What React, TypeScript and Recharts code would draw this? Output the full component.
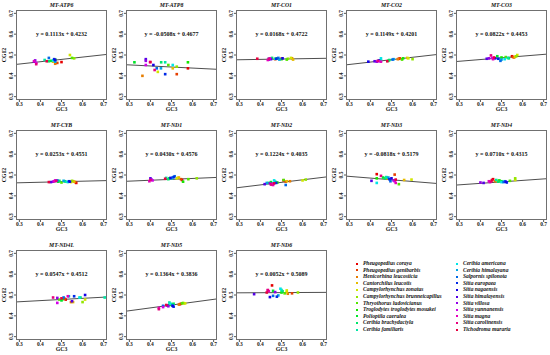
import { ReferenceLine, Scatter, ScatterChart, XAxis, YAxis } from "recharts";

const FONT = "'Liberation Serif', 'Times New Roman', serif";

const species = [
  "Pheugopedius coraya", "Pheugopedius genibarbis", "Henicorhina leucosticta",
  "Cantorchilus leucotis", "Campylorhynchus zonatus", "Campylorhynchus brunneicapillus",
  "Thryothorus ludovicianus", "Troglodytes troglodytes mosukei", "Polioptila caerulea",
  "Certhia brachydactyla", "Certhia familiaris", "Certhia americana", "Certhia himalayana",
  "Salpornis spilonota", "Sitta europaea", "Sitta nagaensis", "Sitta himalayensis",
  "Sitta villosa", "Sitta yunnanensis", "Sitta magna", "Sitta carolinensis", "Tichodroma muraria",
];

const colors = [
  "#E60000", "#E63F00", "#E67D00", "#E6BC00", "#D1E600", "#92E600", "#54E600", "#15E600",
  "#00E629", "#00E668", "#00E6A6", "#00E6E6", "#00A6E6", "#0068E6", "#0029E6", "#1500E6",
  "#5400E6", "#9200E6", "#D100E6", "#E600BC", "#E6007D", "#E6003F",
];

const genes = [
  "MT-ATP6", "MT-ATP8", "MT-CO1", "MT-CO2", "MT-CO3", "MT-CYB", "MT-ND1",
  "MT-ND2", "MT-ND3", "MT-ND4", "MT-ND4L", "MT-ND5", "MT-ND6",
];
const slopes = [0.1113, -0.0508, 0.0168, 0.1149, 0.0822, 0.0253, 0.043, 0.1224, -0.0818, 0.071, 0.0547, 0.1364, 0.0052];
const intercepts = [0.4232, 0.4677, 0.4722, 0.4201, 0.4453, 0.4551, 0.4576, 0.4035, 0.5179, 0.4315, 0.4512, 0.3836, 0.5089];

const axisTicks = [0.3, 0.4, 0.5, 0.6, 0.7];
const axisDomain = [0.284, 0.716];

// [GC3, CG12] per species, same order as `species`
const atp6 = [
  [0.5, 0.466], [0.48, 0.462], [0.47, 0.458], [0.46, 0.468], [0.54, 0.5], [0.56, 0.484],
  [0.55, 0.486], [0.47, 0.478], [0.45, 0.472], [0.44, 0.47], [0.42, 0.476], [0.46, 0.474],
  [0.47, 0.468], [0.44, 0.486], [0.465, 0.48], [0.47, 0.476], [0.37, 0.468], [0.375, 0.474],
  [0.38, 0.462], [0.37, 0.47], [0.38, 0.456], [0.43, 0.47],
];
const atp8 = [
  [0.578, 0.436], [0.525, 0.408], [0.362, 0.4], [0.506, 0.436], [0.435, 0.419], [0.525, 0.444],
  [0.485, 0.452], [0.578, 0.465], [0.324, 0.465], [0.451, 0.465], [0.47, 0.465], [0.506, 0.452],
  [0.45, 0.436], [0.43, 0.436], [0.47, 0.408], [0.414, 0.452], [0.378, 0.48], [0.378, 0.472],
  [0.378, 0.452], [0.398, 0.466], [0.42, 0.428], [0.4, 0.466],
];
const co1 = [
  [0.5, 0.482], [0.47, 0.48], [0.55, 0.484], [0.555, 0.478], [0.545, 0.486], [0.53, 0.482],
  [0.525, 0.478], [0.5, 0.48], [0.48, 0.484], [0.455, 0.486], [0.47, 0.482], [0.44, 0.482],
  [0.49, 0.478], [0.485, 0.486], [0.475, 0.482], [0.505, 0.484], [0.45, 0.48], [0.44, 0.478],
  [0.445, 0.484], [0.435, 0.476], [0.44, 0.482], [0.385, 0.482],
];
const co2 = [
  [0.535, 0.482], [0.54, 0.484], [0.53, 0.48], [0.575, 0.486], [0.58, 0.484], [0.6, 0.48],
  [0.55, 0.478], [0.555, 0.484], [0.485, 0.472], [0.49, 0.476], [0.45, 0.474], [0.45, 0.484],
  [0.51, 0.48], [0.505, 0.478], [0.44, 0.474], [0.39, 0.468], [0.42, 0.47], [0.43, 0.468],
  [0.44, 0.47], [0.45, 0.468], [0.435, 0.472], [0.48, 0.47],
];
const co3 = [
  [0.55, 0.494], [0.555, 0.49], [0.56, 0.488], [0.565, 0.492], [0.575, 0.5], [0.57, 0.494],
  [0.52, 0.49], [0.5, 0.488], [0.48, 0.494], [0.535, 0.484], [0.53, 0.486], [0.515, 0.48],
  [0.5, 0.478], [0.495, 0.472], [0.485, 0.482], [0.47, 0.484], [0.43, 0.482], [0.44, 0.484],
  [0.455, 0.486], [0.46, 0.48], [0.45, 0.498], [0.465, 0.488],
];
const cyb = [
  [0.57, 0.462], [0.565, 0.466], [0.555, 0.47], [0.56, 0.468], [0.545, 0.466], [0.55, 0.472],
  [0.5, 0.464], [0.515, 0.47], [0.485, 0.468], [0.49, 0.472], [0.52, 0.468], [0.53, 0.466],
  [0.51, 0.472], [0.48, 0.474], [0.535, 0.47], [0.54, 0.468], [0.45, 0.466], [0.46, 0.468],
  [0.47, 0.474], [0.465, 0.47], [0.475, 0.472], [0.44, 0.466],
];
const nd1 = [
  [0.55, 0.476], [0.545, 0.48], [0.53, 0.486], [0.535, 0.488], [0.525, 0.484], [0.62, 0.484],
  [0.58, 0.48], [0.555, 0.468], [0.49, 0.484], [0.485, 0.48], [0.475, 0.486], [0.5, 0.484],
  [0.505, 0.488], [0.515, 0.494], [0.51, 0.49], [0.495, 0.486], [0.4, 0.484], [0.405, 0.478],
  [0.41, 0.474], [0.395, 0.47], [0.4, 0.476], [0.47, 0.482],
];
const nd2 = [
  [0.51, 0.474], [0.52, 0.468], [0.54, 0.47], [0.525, 0.47], [0.6, 0.474], [0.615, 0.478],
  [0.51, 0.476], [0.48, 0.464], [0.45, 0.466], [0.44, 0.462], [0.47, 0.468], [0.465, 0.474],
  [0.43, 0.462], [0.52, 0.452], [0.475, 0.462], [0.46, 0.458], [0.42, 0.456], [0.445, 0.46],
  [0.455, 0.456], [0.46, 0.452], [0.45, 0.454], [0.465, 0.46],
];
const nd3 = [
  [0.43, 0.504], [0.515, 0.502], [0.48, 0.482], [0.56, 0.476], [0.595, 0.478], [0.475, 0.486],
  [0.535, 0.456], [0.43, 0.484], [0.46, 0.488], [0.47, 0.484], [0.475, 0.49], [0.43, 0.462],
  [0.485, 0.488], [0.495, 0.47], [0.49, 0.48], [0.5, 0.484], [0.405, 0.472], [0.51, 0.474],
  [0.515, 0.47], [0.52, 0.462], [0.45, 0.496], [0.52, 0.478],
];
const nd4 = [
  [0.46, 0.48], [0.455, 0.474], [0.47, 0.47], [0.48, 0.472], [0.565, 0.476], [0.565, 0.484],
  [0.54, 0.472], [0.49, 0.474], [0.5, 0.47], [0.485, 0.468], [0.475, 0.476], [0.5, 0.466],
  [0.515, 0.47], [0.51, 0.466], [0.525, 0.464], [0.52, 0.468], [0.415, 0.462], [0.4, 0.464],
  [0.445, 0.466], [0.44, 0.47], [0.45, 0.468], [0.455, 0.476],
];
const nd4l = [
  [0.52, 0.478], [0.515, 0.482], [0.545, 0.466], [0.555, 0.466], [0.612, 0.478], [0.6, 0.466],
  [0.49, 0.478], [0.505, 0.48], [0.5, 0.474], [0.59, 0.488], [0.705, 0.488], [0.585, 0.488],
  [0.535, 0.494], [0.51, 0.488], [0.56, 0.494], [0.612, 0.5], [0.55, 0.47], [0.48, 0.486],
  [0.48, 0.462], [0.53, 0.494], [0.46, 0.488], [0.5, 0.484],
];
const nd5 = [
  [0.54, 0.456], [0.545, 0.458], [0.535, 0.454], [0.56, 0.46], [0.565, 0.46], [0.555, 0.462],
  [0.55, 0.46], [0.49, 0.452], [0.5, 0.456], [0.51, 0.458], [0.49, 0.464], [0.495, 0.458],
  [0.505, 0.45], [0.46, 0.448], [0.51, 0.444], [0.505, 0.448], [0.48, 0.45], [0.485, 0.446],
  [0.46, 0.442], [0.44, 0.438], [0.44, 0.432], [0.475, 0.452],
];
const nd6 = [
  [0.455, 0.546], [0.55, 0.508], [0.53, 0.506], [0.525, 0.514], [0.525, 0.522], [0.578, 0.512],
  [0.515, 0.508], [0.5, 0.512], [0.46, 0.52], [0.505, 0.518], [0.5, 0.524], [0.495, 0.53],
  [0.485, 0.498], [0.46, 0.496], [0.478, 0.492], [0.445, 0.49], [0.37, 0.504], [0.47, 0.514],
  [0.435, 0.522], [0.44, 0.518], [0.435, 0.524], [0.43, 0.512],
];

const geneData = [atp6, atp8, co1, co2, co3, cyb, nd1, nd2, nd3, nd4, nd4l, nd5, nd6];

const textStyle = { fontFamily: FONT, fontWeight: 700, color: "#111" } as const;

function YTick(props: any) {
  const { x, y, payload } = props;
  return (
    <text
      x={x}
      y={y}
      transform={`rotate(-90 ${x} ${y})`}
      textAnchor="middle"
      fontSize={5.5}
      fontFamily={FONT}
      fontWeight={700}
      fill="#222"
    >
      {Number(payload.value).toFixed(1)}
    </text>
  );
}

function Square(props: any) {
  const { cx, cy, payload } = props;
  if (cx == null || cy == null) return null;
  return <rect x={cx - 1.3} y={cy - 1.3} width={2.6} height={2.6} fill={payload.color} />;
}

function Panel({ index }: { index: number }) {
  const col = index % 5;
  const row = Math.floor(index / 5);
  const slope = slopes[index];
  const intercept = intercepts[index];
  const data = geneData[index].map((p, i) => ({ x: p[0], y: p[1], color: colors[i] }));
  const [lo, hi] = axisDomain;
  const eq = `y = ${slope.toFixed(4)}x + ${intercept.toFixed(4)}`;

  return (
    <div style={{ position: "absolute", left: col * 110, top: row * 120, width: 110, height: 120 }}>
      <ScatterChart width={110} height={120} margin={{ top: 10, right: 3, left: 0, bottom: 0 }}>
        <XAxis
          type="number"
          dataKey="x"
          domain={axisDomain}
          ticks={axisTicks}
          interval={0}
          allowDataOverflow
          height={20}
          axisLine={false}
          tickSize={2}
          tickMargin={0}
          tickLine={{ stroke: "#555" }}
          tickFormatter={(v) => Number(v).toFixed(1)}
          tick={{ fontSize: 5.5, fontFamily: FONT, fontWeight: 700, fill: "#222" }}
        />
        <YAxis
          type="number"
          dataKey="y"
          domain={axisDomain}
          ticks={axisTicks}
          interval={0}
          allowDataOverflow
          width={16}
          axisLine={false}
          tickSize={2}
          tickMargin={1}
          tickLine={{ stroke: "#555" }}
          tick={<YTick />}
        />
        <Scatter data={data} shape={<Square />} isAnimationActive={false} />
        <ReferenceLine
          segment={[
            { x: lo, y: slope * lo + intercept },
            { x: hi, y: slope * hi + intercept },
          ]}
          stroke="#3a3a3a"
          strokeWidth={0.9}
        />
      </ScatterChart>
      <div
        style={{
          position: "absolute",
          left: 16,
          top: 10,
          width: 91,
          height: 90,
          boxSizing: "border-box",
          border: "1px solid #707070",
          pointerEvents: "none",
        }}
      />
      <div style={{ ...textStyle, position: "absolute", left: 16, top: 1, width: 91, textAlign: "center", fontSize: 5.8, lineHeight: "8px", fontStyle: "italic" }}>
        {genes[index]}
      </div>
      <div style={{ ...textStyle, position: "absolute", left: 16, top: 30, width: 91, textAlign: "center", fontSize: 6, lineHeight: "8px", whiteSpace: "nowrap" }}>
        {eq}
      </div>
      <div style={{ ...textStyle, position: "absolute", left: 16, top: 106, width: 91, textAlign: "center", fontSize: 5.8, lineHeight: "7px" }}>
        GC3
      </div>
      <div
        style={{
          ...textStyle,
          position: "absolute",
          left: -16,
          top: 51,
          width: 40,
          textAlign: "center",
          fontSize: 5.8,
          lineHeight: "8px",
          transform: "rotate(-90deg)",
        }}
      >
        CG12
      </div>
    </div>
  );
}

export default function App() {
  return (
    <div style={{ position: "absolute", left: 0, top: 0, width: 550, height: 355, background: "#fff", overflow: "hidden" }}>
      {genes.map((g, i) => (
        <Panel key={g} index={i} />
      ))}
      {species.map((s, i) => {
        const col = i < 11 ? 0 : 1;
        const row = i % 11;
        return (
          <div
            key={s}
            style={{ position: "absolute", left: col ? 456 : 356, top: 260 + row * 6.6, height: 7, display: "flex", alignItems: "center", whiteSpace: "nowrap" }}
          >
            <span style={{ width: 2, height: 2, background: colors[i], marginRight: 5, display: "inline-block" }} />
            <span style={{ ...textStyle, fontStyle: "italic", fontSize: 5.5, lineHeight: "7px" }}>{s}</span>
          </div>
        );
      })}
    </div>
  );
}
